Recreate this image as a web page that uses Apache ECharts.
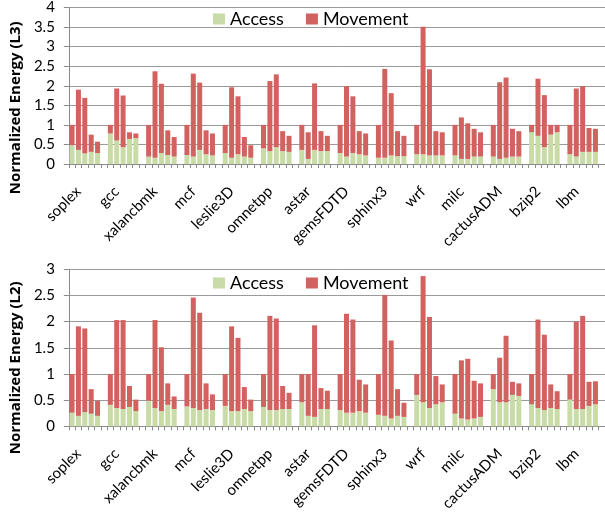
<!DOCTYPE html>
<html>
<head>
<meta charset="utf-8">
<script src="https://cdn.jsdelivr.net/npm/echarts@6/dist/echarts.min.js"></script>
<style>html,body{margin:0;padding:0;background:#fff}#c{width:605px;height:514px}</style>
</head>
<body>
<div id="c"></div>
<script>
const benchmarks = ['soplex','gcc','xalancbmk','mcf','leslie3D','omnetpp','astar','gemsFDTD','sphinx3','wrf','milc','cactusADM','bzip2','lbm'];

// L3 panel: 5 bars per benchmark
const accessL3 = [
  [0.48,0.36,0.27,0.31,0.28],[0.78,0.60,0.43,0.64,0.66],[0.19,0.16,0.28,0.23,0.19],[0.23,0.19,0.36,0.25,0.22],
  [0.28,0.16,0.25,0.19,0.16],[0.40,0.33,0.43,0.33,0.31],[0.36,0.13,0.36,0.33,0.33],[0.28,0.19,0.28,0.25,0.22],
  [0.16,0.16,0.22,0.20,0.20],[0.25,0.25,0.22,0.22,0.22],[0.22,0.13,0.13,0.19,0.19],[0.19,0.13,0.16,0.19,0.19],
  [0.81,0.72,0.43,0.75,0.81],[0.25,0.19,0.31,0.31,0.31]
];
const movementL3 = [
  [0.52,1.54,1.42,0.44,0.29],[0.22,1.33,1.32,0.17,0.12],[0.81,2.21,1.77,0.63,0.50],[0.77,2.12,1.72,0.61,0.56],
  [0.72,1.80,1.48,0.50,0.32],[0.60,1.79,1.86,0.51,0.41],[0.64,0.68,1.70,0.51,0.39],[0.72,1.80,1.45,0.59,0.56],
  [0.84,2.27,1.59,0.64,0.52],[0.75,3.26,2.20,0.62,0.59],[0.78,1.06,0.91,0.71,0.62],[0.81,1.96,2.05,0.71,0.65],
  [0.19,1.46,1.33,0.25,0.19],[0.75,1.74,1.68,0.61,0.59]
];
// L2 panel
const accessL2 = [
  [0.26,0.20,0.27,0.24,0.20],[0.41,0.35,0.33,0.37,0.29],[0.49,0.35,0.29,0.41,0.33],[0.38,0.35,0.31,0.33,0.31],
  [0.39,0.29,0.29,0.33,0.29],[0.37,0.31,0.31,0.33,0.33],[0.46,0.20,0.18,0.33,0.33],[0.31,0.26,0.26,0.29,0.26],
  [0.22,0.20,0.15,0.20,0.18],[0.60,0.46,0.35,0.42,0.46],[0.24,0.15,0.13,0.15,0.18],[0.71,0.46,0.46,0.60,0.58],
  [0.42,0.35,0.31,0.35,0.33],[0.51,0.33,0.33,0.39,0.42]
];
const movementL2 = [
  [0.74,1.71,1.60,0.47,0.29],[0.59,1.68,1.70,0.40,0.22],[0.51,1.68,1.22,0.41,0.24],[0.62,2.11,1.86,0.49,0.30],
  [0.61,1.62,1.40,0.42,0.22],[0.63,1.80,1.75,0.44,0.31],[0.54,0.80,1.75,0.40,0.35],[0.69,1.89,1.78,0.60,0.54],
  [0.78,2.31,1.49,0.51,0.27],[0.40,2.41,1.74,0.54,0.34],[0.76,1.11,1.16,0.72,0.64],[0.29,0.85,1.27,0.25,0.24],
  [0.58,1.69,1.44,0.45,0.34],[0.49,1.67,1.78,0.46,0.44]
];
const seriesNames = ['Access','Movement'];
const yTitles = ['Normalized Energy (L3)','Normalized Energy (L2)'];

// Build slot-based categories: 5 bars + 1 empty slot per benchmark
const slots = [];
benchmarks.forEach((b, g) => { for (let k = 0; k < 6; k++) slots.push(k === 1 ? b : ''); });
function flat(arr){ const out=[]; arr.forEach(g=>{ g.forEach(v=>out.push(v)); out.push(null); }); return out; }

const FONT = 'Lato';
const GREEN = '#c9dba6', RED = '#d1625f';
const grids = [
  {left: 63.5, top: 7, width: 548, height: 157},
  {left: 63.5, top: 269.3, width: 548, height: 157}
];
const maxes = [4, 3];
const titlePad = [44, 40];
const legendTop = [5, 269];
const xAxes = [], yAxes = [], series = [], legends = [];
[0,1].forEach(i => {
  xAxes.push({
    type:'category', gridIndex:i, data:slots,
    axisLine:{lineStyle:{color:'#8a8a8a'}},
    axisTick:{show:true, interval:0, length:4, lineStyle:{color:'#8a8a8a'}},
    axisLabel:{show:true, interval:0, rotate:45, margin:25, fontFamily:FONT, fontSize:15, color:'#000'}
  });
  yAxes.push({
    type:'value', gridIndex:i, min:0, max:maxes[i], interval:0.5,
    name: yTitles[i], nameLocation:'middle', nameGap:40, nameRotate:90,
    nameTextStyle:{fontFamily:'Open Sans', fontWeight:'bold', fontSize:15, color:'#000', padding:[0,titlePad[i],0,0]},
    axisLine:{show:true, lineStyle:{color:'#8a8a8a'}},
    axisTick:{show:true, length:5, lineStyle:{color:'#8a8a8a'}},
    axisLabel:{margin:14, fontFamily:FONT, fontSize:15, color:'#000'},
    splitLine:{lineStyle:{color:'#9a9a9a'}}
  });
  const acc = i===0 ? accessL3 : accessL2;
  const mov = i===0 ? movementL3 : movementL2;
  series.push({name:seriesNames[0], type:'bar', stack:'s'+i, xAxisIndex:i, yAxisIndex:i, data:flat(acc), barWidth:5, itemStyle:{color:GREEN}});
  series.push({name:seriesNames[1], type:'bar', stack:'s'+i, xAxisIndex:i, yAxisIndex:i, data:flat(mov), barWidth:5, itemStyle:{color:RED}});
  legends.push({
    data:seriesNames, left:208, top:legendTop[i], itemWidth:12, itemHeight:11, itemGap:22,
    icon:'rect', textStyle:{fontFamily:FONT, fontSize:18, color:'#000'}, selectedMode:false
  });
});

const chart = echarts.init(document.getElementById('c'), null, {renderer:'canvas'});
chart.setOption({
  animation:false,
  grid:grids, xAxis:xAxes, yAxis:yAxes, series:series, legend:legends
});
</script>
</body>
</html>
